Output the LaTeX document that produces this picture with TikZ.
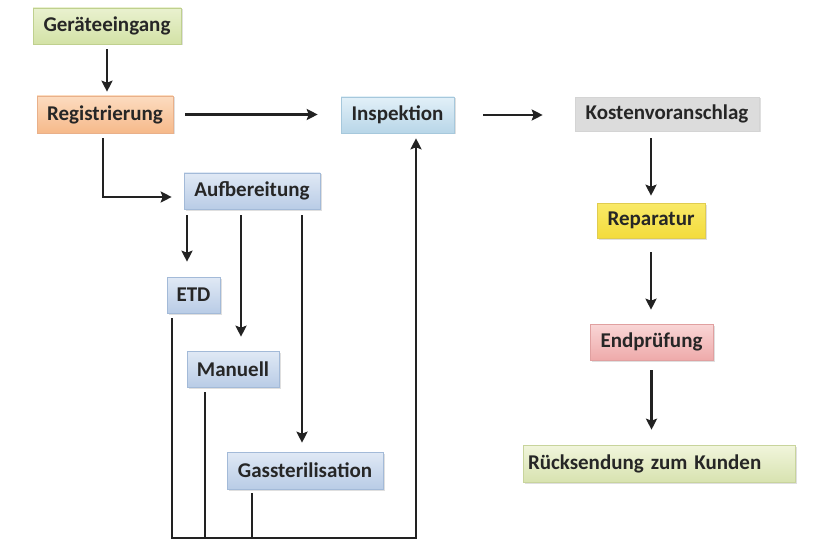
\documentclass[tikz,border=0pt]{standalone}
\usepackage{fontspec}
\setmainfont{Carlito}
\usetikzlibrary{arrows.meta,shadows}
\definecolor{txt}{HTML}{262626}
\definecolor{lnc}{HTML}{222222}
\definecolor{gT}{HTML}{E9F1CF}\definecolor{gB}{HTML}{D3E2A6}\definecolor{gD}{HTML}{BFD08E}
\definecolor{oT}{HTML}{FCDCC0}\definecolor{oB}{HTML}{F6B98A}\definecolor{oD}{HTML}{E9B08A}
\definecolor{bT}{HTML}{E0E9F5}\definecolor{bB}{HTML}{B9CCE6}\definecolor{bD}{HTML}{A3BAD8}
\definecolor{cT}{HTML}{E2F0F8}\definecolor{cB}{HTML}{B8D6E8}\definecolor{cD}{HTML}{A6C8DC}
\definecolor{kF}{HTML}{DCDCDC}\definecolor{kD}{HTML}{D4D4D4}
\definecolor{yT}{HTML}{F9E968}\definecolor{yB}{HTML}{F3DC3C}\definecolor{yD}{HTML}{E0CC50}
\definecolor{pT}{HTML}{F9D6D6}\definecolor{pB}{HTML}{EEAAAA}\definecolor{pD}{HTML}{E0A0A0}
\definecolor{lT}{HTML}{F1F5DC}\definecolor{lB}{HTML}{D8E3B0}\definecolor{lD}{HTML}{C8D49C}
\begin{document}
\begin{tikzpicture}[x=1pt,y=-1pt,
  box/.style={rectangle, inner sep=0pt, minimum height=36pt, line width=0.6pt,
    font=\bfseries\fontsize{21}{24}\selectfont, text=txt,
    drop shadow={shadow xshift=1.5pt,shadow yshift=-1.5pt,opacity=0.25}},
  gbox/.style={box, draw=gD, top color=gT, bottom color=gB},
  obox/.style={box, draw=oD, top color=oT, bottom color=oB},
  bbox/.style={box, draw=bD, top color=bT, bottom color=bB},
  cbox/.style={box, draw=cD, top color=cT, bottom color=cB},
  kbox/.style={box, draw=kD, fill=kF},
  ybox/.style={box, draw=yD, top color=yT, bottom color=yB},
  pbox/.style={box, draw=pD, top color=pT, bottom color=pB},
  lbox/.style={box, draw=lD, top color=lT, bottom color=lB},
  ln/.style={draw=lnc, line width=2.3pt},
  arr/.style={ln, -{Stealth[length=11pt,width=11pt,inset=2pt]}}
]
\useasboundingbox (0,0) rectangle (813,540);
% nodes
\node[gbox, minimum width=148pt] (ger) at (107,26) {Geräteeingang};
\node[obox, minimum width=136pt, minimum height=37pt] (reg) at (105,114.5) {Registrierung};
\node[cbox, minimum width=113pt] (insp) at (397.5,115) {Inspektion};
\node[kbox, minimum width=184pt, minimum height=34pt] (kost) at (667,114) {Kostenvoranschlag};
\node[bbox, minimum width=136pt] (aufb) at (252,191) {Aufbereitung};
\node[bbox, minimum width=53pt] (etd) at (193.5,295) {ETD};
\node[bbox, minimum width=92pt] (man) at (233,369) {Manuell};
\node[bbox, minimum width=156pt, minimum height=37pt] (gas) at (305,470.5) {Gassterilisation};
\node[ybox, minimum width=108pt, minimum height=35pt] (rep) at (651,220.5) {Reparatur};
\node[pbox, minimum width=123pt] (end) at (651.5,342) {Endprüfung};
\node[lbox, minimum width=272pt, minimum height=37pt, text width=262pt, align=left] (rueck) at (659,463.5) {Rücksendung zum Kunden};
% helper coordinates
\coordinate (a1) at (187,209);
\coordinate (a2) at (241,209);
\coordinate (a3) at (302,209);
\coordinate (bl) at (172,538);
\coordinate (bm) at (205,538);
\coordinate (bg) at (252,538);
\coordinate (br) at (416,538);
% connectors
\draw[arr, shorten <=5pt, shorten >=4pt] (ger.south -| 107,0) -- (reg.north -| 107,0);
\draw[arr, shorten <=12pt, shorten >=23pt] (reg.east) -- (insp.west |- reg.east);
\draw[arr, shorten <=29pt, shorten >=32pt] (insp.east) -- (kost.west |- insp.east);
\draw[arr, shorten <=7pt, shorten >=7pt] (kost.south -| rep.north) -- (rep.north);
\draw[arr, shorten <=14pt, shorten >=14pt] (rep.south) -- (end.north -| rep.south);
\draw[arr, shorten <=10pt, shorten >=15pt] (end.south) -- (rueck.north -| end.south);
\draw[arr, shorten <=5pt, shorten >=12pt] (reg.south -| 103,0) |- ([yshift=-6pt]aufb.west);
\draw[arr, shorten <=6pt, shorten >=15pt] (a1) -- (a1 |- etd.north);
\draw[arr, shorten <=6pt, shorten >=14pt] (a2) -- (a2 |- man.north);
\draw[arr, shorten <=6pt, shorten >=9pt] (a3) -- (a3 |- gas.north);
\draw[arr, shorten <=5pt, shorten >=5pt] (etd.south -| bl) -- (bl) -- (br) -- (br |- insp.south);
\draw[ln, shorten <=5pt] (man.south -| bm) -- (bm);
\draw[ln, shorten <=4pt] (gas.south -| bg) -- (bg);
\end{tikzpicture}
\end{document}
